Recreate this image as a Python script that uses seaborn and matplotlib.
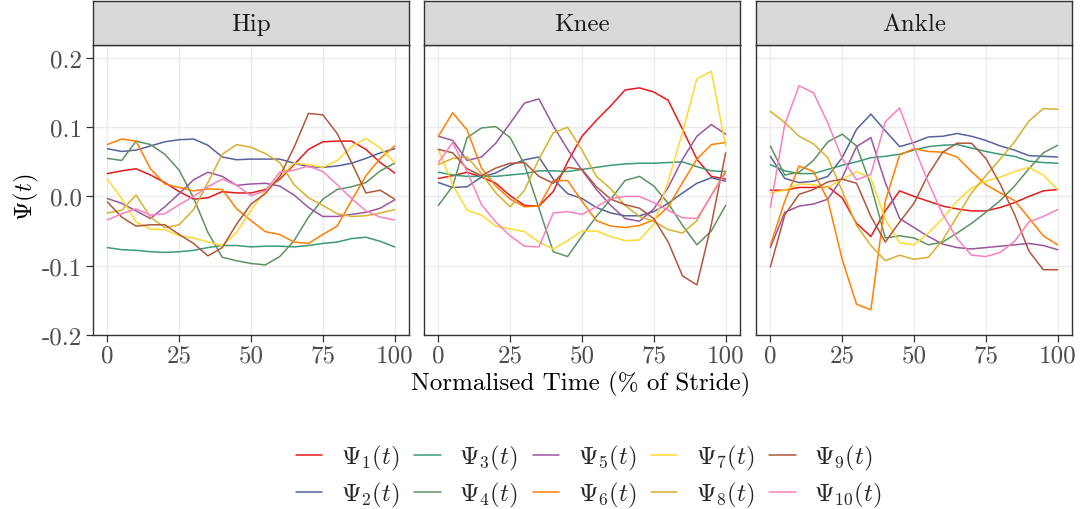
import numpy as np
import pandas as pd
import matplotlib
matplotlib.use("Agg")
import matplotlib.pyplot as plt
from matplotlib.lines import Line2D
import seaborn as sns

# Normalised stride time (%)
t = [0, 5, 10, 15, 20, 25, 30, 35, 40, 45, 50, 55, 60, 65, 70, 75, 80, 85, 90, 95, 100]

joints = ["Hip", "Knee", "Ankle"]
functions = [r"$\Psi_{%d}(t)$" % k for k in range(1, 11)]

# Hip
hip_1 = [0.033, 0.037, 0.040, 0.031, 0.020, 0.007, -0.004, -0.002, 0.007, 0.005, 0.005, 0.010, 0.025, 0.046, 0.068, 0.079, 0.080, 0.080, 0.068, 0.049, 0.034]
hip_2 = [0.069, 0.065, 0.067, 0.073, 0.079, 0.082, 0.083, 0.074, 0.057, 0.053, 0.054, 0.054, 0.054, 0.048, 0.043, 0.042, 0.044, 0.048, 0.055, 0.063, 0.069]
hip_3 = [-0.074, -0.077, -0.078, -0.080, -0.081, -0.080, -0.078, -0.074, -0.071, -0.071, -0.073, -0.072, -0.072, -0.073, -0.071, -0.068, -0.066, -0.061, -0.059, -0.065, -0.073]
hip_4 = [0.055, 0.052, 0.080, 0.075, 0.061, 0.038, -0.002, -0.052, -0.088, -0.093, -0.097, -0.099, -0.087, -0.064, -0.030, -0.004, 0.010, 0.014, 0.020, 0.037, 0.048]
hip_5 = [-0.003, -0.010, -0.021, -0.032, -0.015, 0.004, 0.024, 0.035, 0.029, 0.016, 0.018, 0.019, 0.015, 0.002, -0.016, -0.029, -0.029, -0.026, -0.023, -0.017, -0.005]
hip_6 = [0.075, 0.083, 0.080, 0.040, 0.018, 0.013, 0.008, 0.011, 0.010, -0.018, -0.035, -0.051, -0.055, -0.066, -0.068, -0.055, -0.043, -0.006, 0.030, 0.055, 0.073]
hip_7 = [0.025, -0.003, -0.037, -0.047, -0.048, -0.057, -0.060, -0.066, -0.071, -0.052, -0.020, 0.008, 0.028, 0.048, 0.046, 0.042, 0.052, 0.072, 0.084, 0.070, 0.049]
hip_8 = [-0.024, -0.020, 0.002, -0.030, -0.045, -0.041, -0.019, 0.020, 0.061, 0.075, 0.071, 0.062, 0.049, 0.017, -0.002, -0.013, -0.025, -0.029, -0.028, -0.024, -0.019]
hip_9 = [-0.008, -0.030, -0.043, -0.041, -0.041, -0.055, -0.068, -0.086, -0.074, -0.040, -0.011, 0.004, 0.029, 0.071, 0.120, 0.118, 0.091, 0.049, 0.005, 0.009, -0.004]
hip_10 = [-0.034, -0.025, -0.018, -0.027, -0.025, -0.012, 0.000, 0.014, 0.025, 0.016, 0.001, 0.008, 0.035, 0.038, 0.044, 0.036, 0.017, -0.003, -0.021, -0.030, -0.034]

# Knee
knee_1 = [0.026, 0.030, 0.035, 0.028, 0.019, 0.001, -0.013, -0.014, 0.007, 0.050, 0.087, 0.110, 0.131, 0.154, 0.157, 0.151, 0.139, 0.097, 0.054, 0.029, 0.025]
knee_2 = [0.020, 0.013, 0.014, 0.028, 0.034, 0.045, 0.053, 0.057, 0.025, 0.004, -0.003, -0.016, -0.024, -0.028, -0.028, -0.022, -0.010, 0.005, 0.019, 0.027, 0.022]
knee_3 = [0.035, 0.031, 0.029, 0.029, 0.029, 0.031, 0.033, 0.037, 0.037, 0.036, 0.039, 0.042, 0.045, 0.047, 0.048, 0.048, 0.049, 0.050, 0.043, 0.037, 0.036]
knee_4 = [-0.013, 0.015, 0.085, 0.099, 0.101, 0.085, 0.046, -0.017, -0.080, -0.087, -0.057, -0.029, -0.004, 0.023, 0.029, 0.015, -0.010, -0.042, -0.070, -0.050, -0.013]
knee_5 = [0.087, 0.081, 0.052, 0.057, 0.077, 0.106, 0.135, 0.141, 0.102, 0.068, 0.038, 0.010, -0.013, -0.032, -0.036, -0.018, 0.013, 0.054, 0.087, 0.104, 0.090]
knee_6 = [0.087, 0.121, 0.096, 0.041, 0.015, -0.004, -0.015, -0.014, 0.023, 0.023, -0.007, -0.035, -0.043, -0.045, -0.042, -0.034, -0.015, 0.020, 0.054, 0.075, 0.078]
knee_7 = [0.068, 0.017, -0.020, -0.027, -0.043, -0.047, -0.051, -0.066, -0.076, -0.064, -0.050, -0.050, -0.058, -0.064, -0.063, -0.040, 0.022, 0.093, 0.170, 0.181, 0.073]
knee_8 = [0.046, 0.055, 0.057, 0.033, 0.005, -0.015, 0.009, 0.054, 0.092, 0.100, 0.067, 0.029, 0.011, -0.013, -0.029, -0.036, -0.048, -0.053, -0.035, 0.002, 0.037]
knee_9 = [0.068, 0.063, 0.040, 0.030, 0.041, 0.048, 0.049, 0.029, 0.019, 0.042, 0.039, 0.014, -0.004, -0.012, -0.017, -0.032, -0.066, -0.115, -0.128, -0.041, 0.063]
knee_10 = [0.049, 0.078, 0.036, -0.012, -0.037, -0.057, -0.072, -0.073, -0.024, -0.022, -0.026, -0.015, -0.003, 0.000, 0.000, -0.009, -0.020, -0.031, -0.032, 0.001, 0.034]

# Ankle
ankle_1 = [0.009, 0.009, 0.013, 0.013, 0.014, -0.002, -0.039, -0.058, -0.021, 0.008, 0.000, -0.007, -0.014, -0.018, -0.021, -0.021, -0.016, -0.009, 0.000, 0.008, 0.010]
ankle_2 = [0.058, 0.026, 0.020, 0.022, 0.029, 0.056, 0.097, 0.119, 0.095, 0.072, 0.078, 0.086, 0.087, 0.091, 0.087, 0.081, 0.073, 0.067, 0.059, 0.058, 0.057]
ankle_3 = [0.046, 0.037, 0.033, 0.033, 0.039, 0.045, 0.050, 0.056, 0.058, 0.061, 0.067, 0.072, 0.074, 0.075, 0.070, 0.065, 0.061, 0.058, 0.051, 0.049, 0.048]
ankle_4 = [0.073, 0.031, 0.035, 0.052, 0.079, 0.090, 0.073, 0.016, -0.060, -0.057, -0.060, -0.070, -0.066, -0.053, -0.039, -0.023, -0.006, 0.015, 0.040, 0.063, 0.074]
ankle_5 = [-0.074, -0.023, -0.014, -0.011, -0.004, 0.027, 0.072, 0.085, 0.020, -0.032, -0.045, -0.058, -0.069, -0.074, -0.076, -0.074, -0.072, -0.070, -0.068, -0.071, -0.077]
ankle_6 = [-0.071, -0.007, 0.044, 0.036, -0.005, -0.091, -0.156, -0.164, -0.007, 0.060, 0.069, 0.065, 0.064, 0.057, 0.036, 0.017, 0.005, -0.006, -0.031, -0.057, -0.070]
ankle_7 = [0.005, 0.009, 0.018, 0.017, 0.013, 0.025, 0.036, 0.026, -0.033, -0.067, -0.070, -0.053, -0.032, -0.007, 0.012, 0.022, 0.028, 0.036, 0.042, 0.031, 0.010]
ankle_8 = [0.123, 0.107, 0.087, 0.076, 0.056, 0.008, -0.042, -0.071, -0.093, -0.085, -0.091, -0.088, -0.063, -0.029, 0.005, 0.030, 0.054, 0.079, 0.109, 0.127, 0.126]
ankle_9 = [-0.102, -0.027, 0.003, 0.010, 0.021, 0.025, 0.019, -0.029, -0.066, -0.037, -0.010, 0.032, 0.064, 0.077, 0.077, 0.055, 0.018, -0.026, -0.079, -0.106, -0.106]
ankle_10 = [-0.016, 0.104, 0.160, 0.150, 0.106, 0.055, 0.024, 0.032, 0.108, 0.128, 0.072, 0.020, -0.026, -0.061, -0.085, -0.087, -0.081, -0.065, -0.037, -0.029, -0.019]

series = {
    "Hip": [hip_1, hip_2, hip_3, hip_4, hip_5, hip_6, hip_7, hip_8, hip_9, hip_10],
    "Knee": [knee_1, knee_2, knee_3, knee_4, knee_5, knee_6, knee_7, knee_8, knee_9, knee_10],
    "Ankle": [ankle_1, ankle_2, ankle_3, ankle_4, ankle_5, ankle_6, ankle_7, ankle_8, ankle_9, ankle_10],
}

palette = ["#E41A1C", "#56639C", "#3C9A78", "#5F9260", "#9B56A0",
           "#FF7F00", "#FFD92F", "#D8B02E", "#B0583A", "#F781BF"]

rows = []
for joint in joints:
    for fn, vals in zip(functions, series[joint]):
        for ti, v in zip(t, vals):
            rows.append((joint, fn, ti, v))
df = pd.DataFrame(rows, columns=["joint", "fn", "t", "psi"])

sns.set_theme(style="whitegrid")
plt.rcParams.update({
    "font.family": ["cmr10", "DejaVu Serif"],
    "mathtext.fontset": "cm",
    "axes.unicode_minus": False,
    "axes.formatter.use_mathtext": False,
})

FS = 18
W, H = 1081, 510
fig = plt.figure(figsize=(W / 100, H / 100), dpi=100)

panel_left = [93, 424, 756]
panel_w = 316
panel_top, panel_bot = 46, 335.7
strip_top = 2

grey_dark = "#333333"
tick_col = "#4D4D4D"

for i, joint in enumerate(joints):
    x0 = panel_left[i] / W
    ax = fig.add_axes([x0, 1 - panel_bot / H, panel_w / W, (panel_bot - panel_top) / H])
    sub = df[df["joint"] == joint]
    sns.lineplot(data=sub, x="t", y="psi", hue="fn", hue_order=functions,
                 palette=palette, linewidth=1.1, legend=False, ax=ax,
                 estimator=None, sort=False)
    ax.set_xlim(-5, 105)
    ax.set_ylim(-0.2, 0.219)
    ax.set_xticks([0, 25, 50, 75, 100])
    ax.set_xticklabels(["0", "25", "50", "75", "100"])
    ax.set_yticks([-0.2, -0.1, 0.0, 0.1, 0.2])
    ax.set_facecolor("white")
    ax.grid(True, color="#EBEBEB", linewidth=1.0)
    ax.set_axisbelow(True)
    for sp in ax.spines.values():
        sp.set_visible(True)
        sp.set_color(grey_dark)
        sp.set_linewidth(1.0)
    ax.set_xlabel("")
    ax.set_ylabel("")
    ax.tick_params(axis="x", length=5, width=0.9, color=grey_dark,
                   labelcolor=tick_col, labelsize=FS, pad=2, bottom=True)
    if i == 0:
        ax.set_yticklabels(["-0.2", "-0.1", "0.0", "0.1", "0.2"])
        ax.tick_params(axis="y", length=5, width=0.9, color=grey_dark,
                       labelcolor=tick_col, labelsize=FS, pad=3, left=True)
    else:
        ax.tick_params(axis="y", left=False, labelleft=False)

    # facet strip
    sax = fig.add_axes([x0, 1 - panel_top / H, panel_w / W, (panel_top - strip_top) / H])
    sax.set_facecolor("#D9D9D9")
    sax.set_xticks([])
    sax.set_yticks([])
    sax.grid(False)
    for sp in sax.spines.values():
        sp.set_visible(True)
        sp.set_color(grey_dark)
        sp.set_linewidth(1.0)
    sax.text(0.5, 0.47, joint, ha="center", va="center", fontsize=FS,
             color="#1A1A1A", transform=sax.transAxes)

fig.text(581 / W, 1 - 384 / H, "Normalised Time (% of Stride)",
         ha="center", va="center", fontsize=FS, color="black")
fig.text(26 / W, 1 - 197 / H, r"$\mathbf{\Psi}(t)$", rotation=90,
         ha="center", va="center", fontsize=FS, color="black")

handles = [Line2D([0], [0], color=c, linewidth=1.1) for c in palette]
fig.legend(handles, functions, loc="center", bbox_to_anchor=(589 / W, 1 - 477 / H),
           ncol=5, frameon=False, fontsize=FS, handlelength=1.05,
           handletextpad=0.75, columnspacing=0.58, labelspacing=0.3,
           borderpad=0.2)

fig.savefig("out.png", dpi=100)
